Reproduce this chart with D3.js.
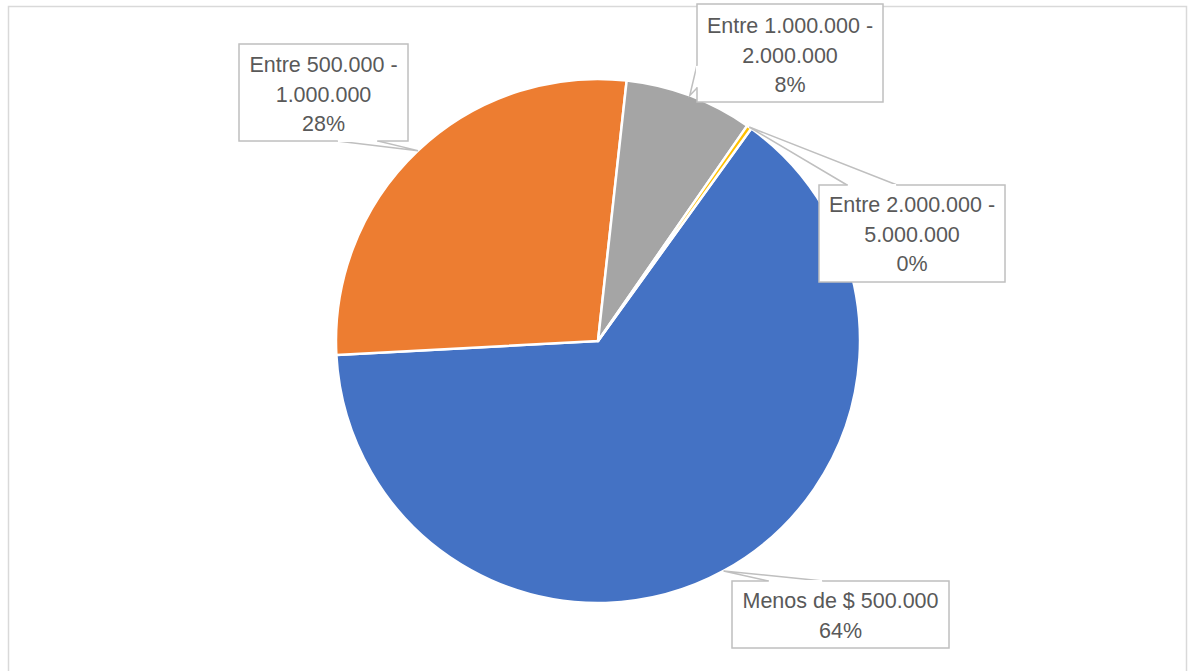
<!DOCTYPE html>
<html lang="es">
<head>
<meta charset="utf-8">
<title>Distribución por rango de ingresos</title>
<script src="https://cdn.jsdelivr.net/npm/d3@7"></script>
<style>
  html, body { margin: 0; padding: 0; background: #ffffff; }
  svg { display: block; }
  text { font-family: "Liberation Sans", Arial, sans-serif; fill: #595959; }
</style>
</head>
<body>
<svg id="chart" width="1188" height="671"></svg>
<script>
// Income brackets and their share of respondents (%)
const categories = [
  "Menos de $ 500.000",
  "Entre 500.000 - 1.000.000",
  "Entre 1.000.000 - 2.000.000",
  "Entre 2.000.000 - 5.000.000"
];
const shares = [64.2, 27.6, 7.9, 0.3];
const labelLines = [
  ["Menos de $ 500.000"],
  ["Entre 500.000 -", "1.000.000"],
  ["Entre 1.000.000 -", "2.000.000"],
  ["Entre 2.000.000 -", "5.000.000"]
];
const colors = ["#4472C4", "#ED7D31", "#A5A5A5", "#FFC000"];

// Callout boxes placed around the pie (x, y, w, h) and the edge their pointer leaves from
const callouts = [
  { x: 732, y: 581, w: 217, h: 67, side: "top",    a: 36,  b: 91, base: 608 },
  { x: 239, y: 44,  w: 169, h: 97, side: "bottom", a: 98,  b: 139, base: 72 },
  { x: 697, y: 4,   w: 186, h: 98, side: "left",   a: 61,  b: 84, base: 33 },
  { x: 819, y: 185, w: 186, h: 97, side: "top",    a: 28,  b: 78, base: 212 }
];

const svg = d3.select("#chart");
const W = 1188, H = 671;

// Chart area frame
svg.append("rect")
  .attr("x", 8.5).attr("y", 6.5)
  .attr("width", W - 10).attr("height", H + 20)
  .attr("fill", "#ffffff")
  .attr("stroke", "#d9d9d9")
  .attr("stroke-width", 1.5);

const cx = 598, cy = 341, R = 262;
const startDeg = 35.8;

const pie = d3.pie()
  .sort(null)
  .value(d => d)
  .startAngle(startDeg * Math.PI / 180)
  .endAngle(startDeg * Math.PI / 180 + 2 * Math.PI);

const arcs = pie(shares);
const arc = d3.arc().innerRadius(0).outerRadius(R);

const g = svg.append("g").attr("transform", `translate(${cx},${cy})`);

g.selectAll("path.slice")
  .data(arcs)
  .join("path")
  .attr("class", "slice")
  .attr("d", arc)
  .attr("fill", (d, i) => colors[i])
  .attr("stroke", "#ffffff")
  .attr("stroke-width", 2.5)
  .attr("stroke-linejoin", "round");

// Point on the rim at the middle of each slice, where the callout pointer lands
function rimPoint(d) {
  const a = (d.startAngle + d.endAngle) / 2;
  return [cx + R * Math.sin(a), cy - R * Math.cos(a)];
}

const layer = svg.append("g");

arcs.forEach((d, i) => {
  const c = callouts[i];
  const [tx, ty] = rimPoint(d);
  let p1, p2;
  if (c.side === "top") { p1 = [c.x + c.a, c.y]; p2 = [c.x + c.b, c.y]; }
  else if (c.side === "bottom") { p1 = [c.x + c.a, c.y + c.h]; p2 = [c.x + c.b, c.y + c.h]; }
  else { p1 = [c.x, c.y + c.a]; p2 = [c.x, c.y + c.b]; }

  const box = layer.append("g");
  // pointer wedge
  box.append("path")
    .attr("d", `M${p1[0]},${p1[1]}L${tx},${ty}L${p2[0]},${p2[1]}Z`)
    .attr("fill", "#ffffff")
    .attr("stroke", "#bfbfbf")
    .attr("stroke-width", 1.5)
    .attr("stroke-linejoin", "miter");
  box.append("rect")
    .attr("x", c.x).attr("y", c.y)
    .attr("width", c.w).attr("height", c.h)
    .attr("fill", "#ffffff")
    .attr("stroke", "#bfbfbf")
    .attr("stroke-width", 1.5);
  // hide the box edge between the wedge base points
  box.append("line")
    .attr("x1", p1[0] + (c.side === "left" ? 0 : 0.8))
    .attr("y1", p1[1] + (c.side === "left" ? 0.8 : 0))
    .attr("x2", p2[0] - (c.side === "left" ? 0 : 0.8))
    .attr("y2", p2[1] - (c.side === "left" ? 0.8 : 0))
    .attr("stroke", "#ffffff")
    .attr("stroke-width", 2.2);

  const lines = labelLines[i].concat([Math.round(d.data) + "%"]);
  box.selectAll("text")
    .data(lines)
    .join("text")
    .attr("x", c.x + c.w / 2)
    .attr("y", (t, k) => c.base + k * 29.5)
    .attr("text-anchor", "middle")
    .attr("font-size", 21.5)
    .text(t => t);
});
</script>
</body>
</html>
